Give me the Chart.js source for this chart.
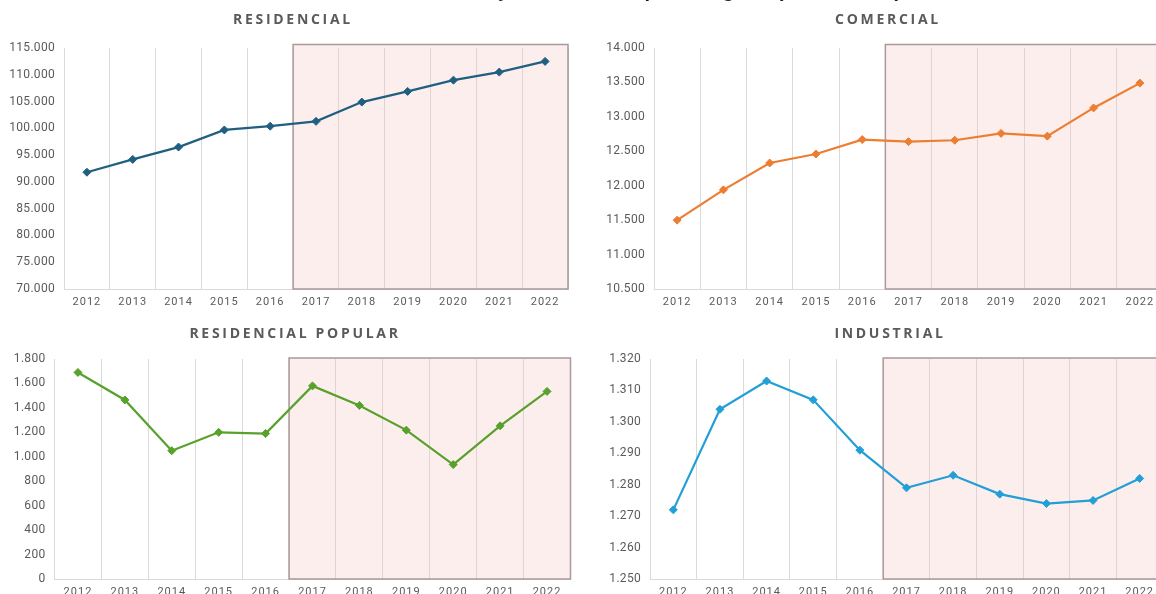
<!DOCTYPE html>
<html lang="pt-BR">
<head>
<meta charset="utf-8">
<script src="https://cdn.jsdelivr.net/npm/chart.js@4/dist/chart.umd.min.js"></script>
<style>
  html, body { margin: 0; padding: 0; background: #fff; }
  body { width: 1156px; height: 594px; overflow: hidden; position: relative; font-family: Roboto, 'Liberation Sans', Arial, sans-serif; }
  canvas { position: absolute; }
  .titulo { position: absolute; transform: translateX(-50%); white-space: nowrap; font-family: 'Open Sans', 'Liberation Sans', Arial, sans-serif; font-weight: 700; font-size: 14px; letter-spacing: 2.7px; color: #5a5a5a; line-height: 16px; z-index: 2; }
  #titulo-geral { position: absolute; top: -22px; left: 441px; white-space: nowrap; font-family: 'Liberation Sans', Arial, sans-serif; font-weight: 700; font-size: 20px; line-height: 24px; color: #1a1a1a; z-index: 2; }
</style>
</head>
<body>
<div id="titulo-geral">Evolução de clientes por categoria (2012 – 2022)</div>
<div class="titulo" style="left:293px; top:11px">RESIDENCIAL</div>
<div class="titulo" style="left:888px; top:11px">COMERCIAL</div>
<div class="titulo" style="left:295px; top:325px">RESIDENCIAL POPULAR</div>
<div class="titulo" style="left:890px; top:325px">INDUSTRIAL</div>

<canvas id="residencial" width="580" height="320" style="left:0; top:0"></canvas>
<canvas id="comercial" width="590" height="320" style="left:580px; top:0"></canvas>
<canvas id="popular" width="580" height="300" style="left:0; top:320px"></canvas>
<canvas id="industrial" width="590" height="300" style="left:580px; top:320px"></canvas>

<script>
const anos = ['2012', '2013', '2014', '2015', '2016', '2017', '2018', '2019', '2020', '2021', '2022'];
const inicioProjecao = '2017';

const residencial = [91800, 94200, 96500, 99700, 100400, 101300, 104900, 106900, 109000, 110500, 112500];
const comercial = [11500, 11940, 12330, 12460, 12670, 12640, 12660, 12760, 12720, 13130, 13490];
const residencialPopular = [1690, 1465, 1050, 1200, 1190, 1580, 1420, 1218, 936, 1253, 1535];
const industrial = [1272, 1304, 1313, 1307, 1291, 1279, 1283, 1277, 1274, 1275, 1282];

const eixoResidencial = [70000, 115000, 5000];
const eixoComercial = [10500, 14000, 500];
const eixoPopular = [0, 1800, 200];
const eixoIndustrial = [1250, 1320, 10];

function formatar(v) {
    return String(v).replace(/\B(?=(\d{3})+(?!\d))/g, '.');
}

// faixa rosa marcando o periodo a partir de 2017
const faixa = {
    id: 'faixa',
    beforeDatasetsDraw(chart, args, opts) {
        const {ctx, chartArea: a, scales: {x}} = chart;
        const i = anos.indexOf(inicioProjecao);
        const x0 = (x.getPixelForValue(i - 1) + x.getPixelForValue(i)) / 2;
        const topo = a.top - opts.acima;
        ctx.save();
        ctx.fillStyle = 'rgba(250, 200, 200, 0.3)';
        ctx.fillRect(x0, topo, a.right - x0, a.bottom - topo);
        ctx.strokeStyle = '#a8999a';
        ctx.lineWidth = 1.5;
        ctx.strokeRect(x0, topo, a.right - x0, a.bottom - topo);
        ctx.restore();
    }
};

// anos com letras espacadas, valores do eixo y quase sem espaco
const espacamento = {
    id: 'espacamento',
    beforeLayout(chart) { chart.ctx.letterSpacing = '1px'; },
    afterLayout(chart) {
        const y = chart.scales.y;
        if (y._embrulhado) return;
        const orig = y.drawLabels;
        y.drawLabels = function (area) {
            const ctx = this.ctx;
            ctx.letterSpacing = '0.3px';
            orig.call(this, area);
            ctx.letterSpacing = '1px';
        };
        y._embrulhado = true;
    },
    beforeDraw(chart) { chart.ctx.letterSpacing = '1px'; }
};

function desenhar(id, valores, eixo, cor, painel) {
    const canvas = document.getElementById(id);
    const esq = parseFloat(canvas.style.left) || 0;
    const topo = parseFloat(canvas.style.top) || 0;
    new Chart(canvas, {
        type: 'line',
        data: {
            labels: anos,
            datasets: [{
                data: valores,
                borderColor: cor,
                backgroundColor: cor,
                borderWidth: 2.2,
                pointStyle: 'rectRot',
                pointRadius: 4,
                pointBorderWidth: 1,
                tension: 0
            }]
        },
        options: {
            responsive: false,
            animation: false,
            layout: { padding: { left: 0, top: painel.t - topo, right: esq + canvas.width - painel.r, bottom: 0 } },
            plugins: { legend: { display: false }, tooltip: { enabled: false }, faixa: { acima: painel.acima } },
            scales: {
                x: {
                    offset: true,
                    grid: { offset: true, color: '#d9d9d9', drawTicks: false },
                    border: { color: '#d9d9d9', width: 1 },
                    ticks: { color: '#5a5a5a', font: { size: 11 }, padding: 7, maxRotation: 0, autoSkip: false },
                    afterFit(s) { s.height = topo + canvas.height - painel.b; }
                },
                y: {
                    min: eixo[0],
                    max: eixo[1],
                    grid: { display: false, drawTicks: false },
                    border: { display: false },
                    ticks: { stepSize: eixo[2], color: '#5a5a5a', font: { size: 12 }, padding: 9, callback: v => formatar(v) },
                    afterFit(s) { s.width = painel.l - esq; }
                }
            }
        },
        plugins: [faixa, espacamento]
    });
}

Chart.defaults.font.family = "Roboto, 'Liberation Sans', Arial, sans-serif";

desenhar('residencial', residencial, eixoResidencial, '#1f5f80', {l: 64, r: 568, t: 48, b: 289, acima: 3.5});
desenhar('comercial', comercial, eixoComercial, '#ed7d31', {l: 654, r: 1163, t: 48, b: 289, acima: 3.5});
desenhar('popular', residencialPopular, eixoPopular, '#58a12b', {l: 54.5, r: 570.5, t: 359, b: 579, acima: 1});
desenhar('industrial', industrial, eixoIndustrial, '#219fd6', {l: 650, r: 1163, t: 359, b: 579, acima: 1});
</script>
</body>
</html>
